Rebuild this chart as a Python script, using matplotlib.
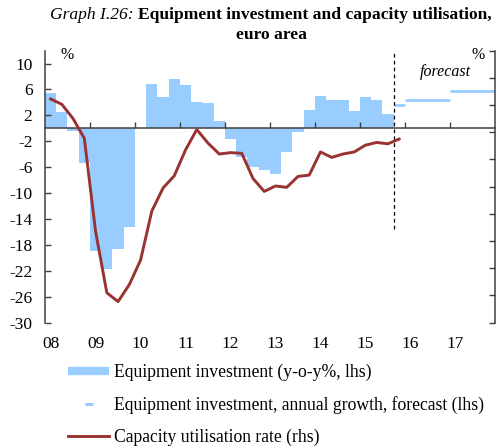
import numpy as np
import matplotlib.pyplot as plt
from matplotlib.lines import Line2D

plt.rcParams['font.family'] = 'Liberation Serif'
plt.rcParams['axes.unicode_minus'] = False

years = ['08', '09', '10', '11', '12', '13', '14', '15', '16', '17']

# equipment investment, y-o-y %, quarterly 2008Q1 - 2015Q3
invest = [5.4, 2.6, -0.4, -5.3,
          -18.9, -21.7, -18.6, -15.2,
          0.0, 6.8, 4.9, 7.6,
          6.7, 4.0, 3.9, 1.2,
          -1.6, -4.4, -6.0, -6.4,
          -7.1, -3.6, -0.5, 2.8,
          5.0, 4.4, 4.3, 2.7,
          4.9, 4.4, 2.2]

# annual growth forecast: 2015Q4, 2016, 2017
fc_from = [2015.75, 2016, 2017]
fc_to = [2016, 2017, 2018]
fc_val = [3.6, 4.45, 5.7]

# capacity utilisation rate (rhs), quarterly 2008Q1 - 2015Q4
capu = [84.45, 84.05, 83.0, 81.55,
        74.7, 70.2, 69.55, 70.8,
        72.6, 76.2, 77.9, 78.8,
        80.7, 82.2, 81.2, 80.4,
        80.5, 80.45, 78.6, 77.65,
        78.05, 77.95, 78.75, 78.85,
        80.55, 80.15, 80.4, 80.55,
        81.05, 81.25, 81.15, 81.5]

blue = '#99ccff'
red = '#993331'
grey = '#404040'

fig = plt.figure(figsize=(4.97, 4.46), dpi=100)
ax = fig.add_axes([0.0905, 0.2765, 0.905, 0.61])
ax2 = ax.twinx()

xq = 2008 + 0.25 * np.arange(len(invest))
ax.bar(xq, invest, width=0.25, align='edge', color=blue, linewidth=0)
for a, b, v in zip(fc_from, fc_to, fc_val):
    ax.plot([a, b], [v, v], color=blue, lw=2, solid_capstyle='butt')

ax.plot([2015.75, 2015.75], [-15.6, 12], color='black', lw=0.9, ls=(0, (3, 2.5)))

xc = 2008.125 + 0.25 * np.arange(len(capu))
ax2.plot(xc, capu, color=red, lw=2.1)

ax.set_xlim(2008, 2018)
ax.set_ylim(-30, 12)
ax.set_yticks(np.arange(-30, 11, 4))
ax2.set_ylim(68, 88)
ax2.set_yticks(np.arange(68, 89, 2))
ax2.set_yticklabels([])

ax.spines['top'].set_visible(False)
ax.spines['right'].set_visible(False)
ax.spines['bottom'].set_position(('data', 0))
for s in ['top', 'left', 'bottom']:
    ax2.spines[s].set_visible(False)
for s in [ax.spines['left'], ax.spines['bottom'], ax2.spines['right']]:
    s.set_color(grey)
    s.set_linewidth(1.1)

ax.set_xticks(np.arange(2009, 2018))
ax.set_xticklabels([])
ax.tick_params(axis='x', direction='in', length=4, width=1, color=grey)
ax.tick_params(axis='y', direction='in', length=4, width=1, color=grey,
               labelsize=12.5, pad=9)
ax2.tick_params(axis='y', direction='in', length=4, width=1, color=grey)

for i, y in enumerate(years):
    ax.text(2008.125 + i, -0.078, y, transform=ax.get_xaxis_transform(),
            ha='center', va='center', fontsize=12.5)

ax.text(0.05, 0.985, '%', transform=ax.transAxes, ha='center', va='center', fontsize=11.5)
ax.text(0.963, 0.985, '%', transform=ax.transAxes, ha='center', va='center', fontsize=11.5)
ax.text(2016.9, 8.7, 'forecast', style='italic', ha='center', va='center', fontsize=11.5)

# title, centred, italic + bold on first line
t1 = fig.text(0, 1 - 15 / 446, 'Graph I.26: ', style='italic', fontsize=12.6, va='center')
t2 = fig.text(0, 1 - 15 / 446, 'Equipment investment and capacity utilisation,',
              weight='bold', fontsize=12.6, va='center')
fig.text(271 / 497, 1 - 35 / 446, 'euro area', weight='bold', fontsize=12.6,
         ha='center', va='center')
r = fig.canvas.get_renderer()
w1 = t1.get_window_extent(r).width
w2 = t2.get_window_extent(r).width
x0 = 271 - (w1 + w2) / 2
t1.set_x(x0 / 497)
t2.set_x((x0 + w1) / 497)

handles = [Line2D([], [], color=blue, lw=6, solid_capstyle='butt'),
           Line2D([], [], color=blue, marker='_', ms=6, mew=2.2, ls='none'),
           Line2D([], [], color=red, lw=2.1)]
labels = ['Equipment investment (y-o-y%, lhs)',
          'Equipment investment, annual growth, forecast (lhs)',
          'Capacity utilisation rate (rhs)']
fig.legend(handles, labels, loc='upper left', bbox_to_anchor=(68 / 497, 0.184),
           frameon=False, fontsize=12.7, handlelength=2.35, handletextpad=0.28,
           labelspacing=0.84, borderpad=0, borderaxespad=0)

fig.savefig('out.png', dpi=100)
